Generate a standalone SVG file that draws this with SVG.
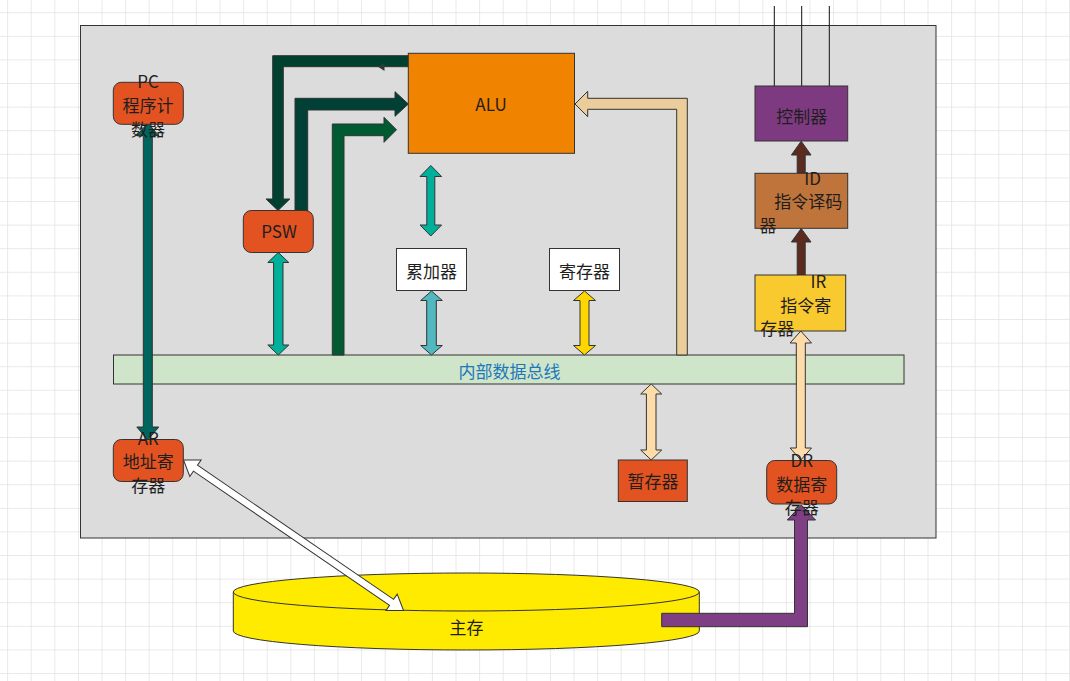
<svg xmlns="http://www.w3.org/2000/svg" width="1070" height="681" viewBox="0 0 1070 681">
<defs>
<pattern id="grid" patternUnits="userSpaceOnUse" x="7.1" y="12.2" width="23.6" height="23.6">
<path d="M0,0 H23.6 M0,0 V23.6" fill="none" stroke="#e2e2e2" stroke-width="1.5"/>
</pattern>
<style>
.t{font-family:"Noto Sans CJK SC","Microsoft YaHei",sans-serif;font-size:17px;fill:#1e1e1e;text-anchor:middle;dominant-baseline:central}
.n{stroke:#333;stroke-width:1}
.c{stroke:#333;stroke-width:1;stroke-linejoin:miter}
</style>
</defs>
<rect width="1070" height="681" fill="#ffffff"/>
<rect width="1070" height="681" fill="url(#grid)"/>
<rect x="80.5" y="25.5" width="855.5" height="512.5" fill="#dcdcdc" stroke="#333" stroke-width="1"/>

<g id="bus">
<rect class="n" x="113.5" y="355" width="790.5" height="29" fill="#cfe5c9"/>
<text class="t" x="509.5" y="370" style="fill:#1c78bb">内部数据总线</text>
</g>

<g id="mainmem">
<path class="n" d="M233.3,592 L233.3,631 A233,19 0 0 0 699.3,631 L699.3,592 Z" fill="#ffeb00"/>
<ellipse class="n" cx="466.3" cy="592" rx="233" ry="19" fill="#ffeb00"/>
<text class="t" x="466.5" y="626">主存</text>
</g>

<g id="connectors">
<path d="M774.3,6 V86 M801.7,6 V86 M829.3,6 V86" stroke="#111" stroke-width="1"/>
<path class="c" fill="#00402f" d="M408,55.7 L272.7,55.7 L272.7,199 L266,199 L278,210.5 L289.8,199 L283.3,199 L283.3,66.7 L408,66.7 Z"/>
<path fill="#2c3b36" d="M384.5,62.5 L378,66.8 L384.5,71 Z"/>
<path class="c" fill="#004035" d="M295,211 L295,98.3 L395,98.3 L395,91.7 L408.3,104 L395,116.3 L395,110 L307.7,110 L307.7,211 Z"/>
<path class="c" fill="#005a32" d="M332.3,355 L332.3,124 L384,124 L384,117.3 L396.5,129.8 L384,142.3 L384,135.7 L344,135.7 L344,355 Z"/>
<path class="c" fill="#eacd9b" d="M676.7,355 L676.7,109.3 L587.7,109.3 L587.7,116.7 L575,104 L587.7,91.3 L587.7,98.3 L687.3,98.3 L687.3,355 Z"/>
<path class="c" fill="#00655c" d="M147.8,123 L158.8,135.7 L152.3,135.7 L152.3,427 L158.8,427 L147.8,440 L136.8,427 L143.3,427 L143.3,135.7 L136.8,135.7 Z"/>
<path class="c" fill="#00b09a" d="M278.3,252.5 L288.8,262.5 L283,262.5 L283,345 L288.8,345 L278.3,355 L267.8,345 L273.6,345 L273.6,262.5 L267.8,262.5 Z"/>
<path class="c" fill="#00b09a" d="M430.8,165.5 L441.6,176.5 L434.8,176.5 L434.8,225 L441.6,225 L430.8,236 L420,225 L426.8,225 L426.8,176.5 L420,176.5 Z"/>
<path class="c" fill="#50b8be" d="M431.5,291 L442.3,300.5 L436.3,300.5 L436.3,345.5 L442.3,345.5 L431.5,355 L420.7,345.5 L426.7,345.5 L426.7,300.5 L420.7,300.5 Z"/>
<path class="c" fill="#ffd700" d="M584.5,291 L595.5,300.5 L589,300.5 L589,345.5 L595.5,345.5 L584.5,355 L573.5,345.5 L580,345.5 L580,300.5 L573.5,300.5 Z"/>
<path class="c" fill="#fedcaa" d="M651.2,384 L661.7,394 L656,394 L656,450 L661.7,450 L651.2,460 L640.7,450 L646.4,450 L646.4,394 L640.7,394 Z"/>
<path class="c" fill="#fedcaa" d="M800.8,331 L811.5,343 L805.3,343 L805.3,448 L811.5,448 L800.8,460 L790.1,448 L796.3,448 L796.3,343 L790.1,343 Z"/>
<path class="c" fill="#5b2b1f" d="M801.2,141.2 L811,155 L805.2,155 L805.2,173.3 L797.2,173.3 L797.2,155 L791.4,155 Z"/>
<path class="c" fill="#5b2b1f" d="M801.2,228.5 L811,242 L805.2,242 L805.2,275 L797.2,275 L797.2,242 L791.4,242 Z"/>
<path class="c" fill="#7e3f84" d="M661.7,613.3 L794.5,613.3 L794.5,520 L787.3,520 L801.3,505 L815.5,520 L807.5,520 L807.5,626.7 L661.7,626.7 Z"/>
<path class="c" fill="#ffffff" transform="translate(183.5,460) rotate(34.38)" d="M0,0 L14.5,-10 L14.5,-3.6 L252.1,-3.6 L252.1,-10 L266.6,0 L252.1,10 L252.1,3.6 L14.5,3.6 L14.5,10 Z"/>
</g>

<g id="alu">
<rect class="n" x="408.3" y="53.3" width="166.2" height="100" fill="#f08300"/>
<text class="t" x="491" y="103">ALU</text>
</g>

<g id="pc">
<rect class="n" x="113.3" y="82.3" width="70" height="42" rx="8" fill="#e35322"/>
<text class="t" x="148" y="80">PC</text>
<text class="t" x="148" y="104.5">程序计</text>
<text class="t" x="148" y="128.5">数器</text>
</g>

<g id="psw">
<rect class="n" x="243.3" y="210.5" width="70" height="42" rx="8" fill="#e35322"/>
<text class="t" x="279" y="230.5">PSW</text>
</g>

<g id="acc">
<rect class="n" x="396.5" y="248.5" width="70" height="42" fill="#ffffff"/>
<text class="t" x="431.5" y="270">累加器</text>
</g>

<g id="reg">
<rect class="n" x="549.5" y="248.5" width="70" height="42" fill="#ffffff"/>
<text class="t" x="584.5" y="270">寄存器</text>
</g>

<g id="ar">
<rect class="n" x="113.3" y="439.5" width="70" height="42" rx="8" fill="#e35322"/>
<text class="t" x="148.3" y="437">AR</text>
<text class="t" x="148.3" y="460.5">地址寄</text>
<text class="t" x="148.3" y="484">存器</text>
</g>

<g id="temp">
<rect class="n" x="618.3" y="460" width="69" height="41.5" fill="#e35322"/>
<text class="t" x="653" y="480.5">暂存器</text>
</g>

<g id="dr">
<rect class="n" x="766.7" y="460.5" width="70" height="43.5" rx="8" fill="#e35322"/>
<text class="t" x="801.7" y="459.5">DR</text>
<text class="t" x="801.7" y="483">数据寄</text>
<text class="t" x="801.7" y="506">存器</text>
</g>

<g id="controller">
<rect class="n" x="755" y="86" width="92.7" height="55" fill="#7e3a80"/>
<text class="t" x="801.7" y="115">控制器</text>
</g>

<g id="id">
<rect class="n" x="755" y="173.3" width="92.7" height="55" fill="#be743a"/>
<text class="t" x="812.5" y="177">ID</text>
<text class="t" x="808.3" y="200.5">指令译码</text>
<text class="t" x="768" y="224">器</text>
</g>

<g id="ir">
<rect class="n" x="755" y="275" width="90.7" height="56" fill="#f9c930"/>
<text class="t" x="818.3" y="280.5">IR</text>
<text class="t" x="805.7" y="304.5">指令寄</text>
<text class="t" x="777.3" y="327.5">存器</text>
</g>
</svg>
